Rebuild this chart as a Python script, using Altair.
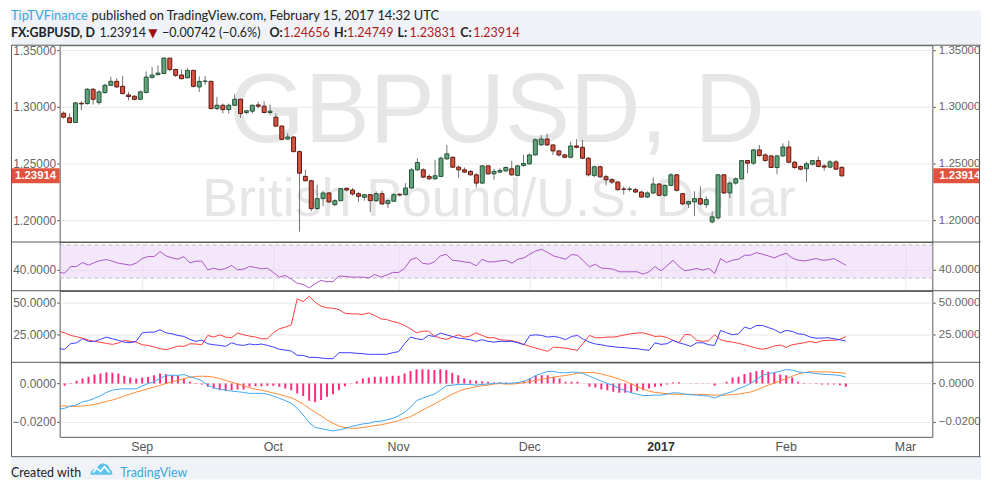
import altair as alt
import pandas as pd

# ---------------- data ----------------
opens = [1.2944, 1.2903, 1.2862, 1.3032, 1.3029, 1.3155, 1.3038, 1.3126, 1.3190, 1.3225,
         1.3181, 1.3105, 1.3094, 1.3067, 1.3126, 1.3260, 1.3284, 1.3295, 1.3430, 1.3330,
         1.3281, 1.3257, 1.3322, 1.3176, 1.3225, 1.3225, 1.2985, 1.3014, 1.2976, 1.3014,
         1.3067, 1.2950, 1.2962, 1.3017, 1.3006, 1.2950, 1.2909, 1.2830, 1.2716, 1.2734,
         1.2605, 1.2386, 1.2348, 1.2102, 1.2190, 1.2240, 1.2137, 1.2172, 1.2281, 1.2266,
         1.2234, 1.2202, 1.2225, 1.2172, 1.2234, 1.2146, 1.2167, 1.2228, 1.2225, 1.2284,
         1.2444, 1.2444, 1.2386, 1.2365, 1.2386, 1.2541, 1.2555, 1.2468, 1.2444, 1.2430,
         1.2400, 1.2327, 1.2479, 1.2409, 1.2424, 1.2435, 1.2453, 1.2395, 1.2482, 1.2497,
         1.2576, 1.2664, 1.2716, 1.2664, 1.2611, 1.2576, 1.2555, 1.2655, 1.2643, 1.2547,
         1.2395, 1.2471, 1.2383, 1.2357, 1.2336, 1.2275, 1.2272, 1.2269, 1.2248, 1.2204,
         1.2240, 1.2319, 1.2219, 1.2307, 1.2400, 1.2234, 1.2143, 1.2161, 1.2190, 1.2137,
         1.1985, 1.2020, 1.2400, 1.2240, 1.2327, 1.2365, 1.2526, 1.2503, 1.2620, 1.2576,
         1.2567, 1.2465, 1.2567, 1.2646, 1.2511, 1.2474, 1.2453, 1.2494, 1.2526, 1.2479,
         1.2468, 1.2514, 1.24656]
highs = [1.2960, 1.2941, 1.3044, 1.3050, 1.3167, 1.3167, 1.3146, 1.3205, 1.3266, 1.3254,
         1.3272, 1.3132, 1.3102, 1.3146, 1.3313, 1.3351, 1.3366, 1.3439, 1.3433, 1.3336,
         1.3330, 1.3342, 1.3327, 1.3269, 1.3272, 1.3231, 1.3088, 1.3029, 1.3029, 1.3111,
         1.3073, 1.2973, 1.3020, 1.3044, 1.3050, 1.3020, 1.2941, 1.2839, 1.2766, 1.2740,
         1.2614, 1.2444, 1.2357, 1.2313, 1.2260, 1.2248, 1.2184, 1.2284, 1.2289, 1.2284,
         1.2248, 1.2231, 1.2231, 1.2254, 1.2260, 1.2181, 1.2240, 1.2240, 1.2327, 1.2459,
         1.2547, 1.2459, 1.2406, 1.2532, 1.2561, 1.2664, 1.2561, 1.2482, 1.2465, 1.2444,
         1.2415, 1.2488, 1.2488, 1.2453, 1.2459, 1.2474, 1.2523, 1.2488, 1.2576, 1.2588,
         1.2722, 1.2751, 1.2763, 1.2669, 1.2620, 1.2588, 1.2693, 1.2716, 1.2710, 1.2555,
         1.2482, 1.2482, 1.2400, 1.2371, 1.2342, 1.2298, 1.2295, 1.2284, 1.2260, 1.2254,
         1.2377, 1.2327, 1.2313, 1.2415, 1.2406, 1.2240, 1.2172, 1.2254, 1.2298, 1.2210,
         1.2079, 1.2406, 1.2406, 1.2342, 1.2377, 1.2532, 1.2532, 1.2628, 1.2664, 1.2590,
         1.2576, 1.2576, 1.2678, 1.2702, 1.2523, 1.2482, 1.2517, 1.2532, 1.2561, 1.2494,
         1.2532, 1.2532, 1.24749]
lows = [1.2898, 1.2854, 1.2857, 1.2971, 1.3020, 1.3020, 1.3020, 1.3117, 1.3184, 1.3167,
        1.3111, 1.3058, 1.3058, 1.3061, 1.3120, 1.3249, 1.3278, 1.3289, 1.3313, 1.3263,
        1.3243, 1.3249, 1.3170, 1.3132, 1.3196, 1.2979, 1.2971, 1.2941, 1.2941, 1.3009,
        1.2903, 1.2933, 1.2941, 1.2985, 1.2944, 1.2933, 1.2824, 1.2707, 1.2707, 1.2599,
        1.1898, 1.2342, 1.2079, 1.2093, 1.2123, 1.2152, 1.2123, 1.2167, 1.2254, 1.2216,
        1.2161, 1.2172, 1.2073, 1.2161, 1.2137, 1.2108, 1.2161, 1.2210, 1.2219, 1.2278,
        1.2435, 1.2371, 1.2357, 1.2357, 1.2380, 1.2532, 1.2459, 1.2371, 1.2415, 1.2395,
        1.2289, 1.2319, 1.2400, 1.2357, 1.2415, 1.2424, 1.2392, 1.2386, 1.2474, 1.2488,
        1.2570, 1.2658, 1.2655, 1.2576, 1.2561, 1.2547, 1.2547, 1.2634, 1.2538, 1.2386,
        1.2377, 1.2371, 1.2307, 1.2319, 1.2260, 1.2225, 1.2254, 1.2240, 1.2196, 1.2196,
        1.2231, 1.2210, 1.2207, 1.2298, 1.2254, 1.2131, 1.2108, 1.2035, 1.2131, 1.2108,
        1.1971, 1.2006, 1.2231, 1.2196, 1.2313, 1.2357, 1.2415, 1.2488, 1.2561, 1.2517,
        1.2459, 1.2406, 1.2558, 1.2503, 1.2453, 1.2438, 1.2336, 1.2482, 1.2465, 1.2435,
        1.2459, 1.2444, 1.23831]
closes = [1.2909, 1.2862, 1.3035, 1.3026, 1.3155, 1.3067, 1.3132, 1.3190, 1.3225, 1.3176,
          1.3117, 1.3091, 1.3067, 1.3132, 1.3263, 1.3281, 1.3298, 1.3430, 1.3330, 1.3278,
          1.3249, 1.3322, 1.3181, 1.3225, 1.3228, 1.2985, 1.3014, 1.2976, 1.3014, 1.3067,
          1.2941, 1.2965, 1.3014, 1.3006, 1.2950, 1.2962, 1.2830, 1.2713, 1.2734, 1.2605,
          1.2415, 1.2348, 1.2102, 1.2190, 1.2240, 1.2161, 1.2172, 1.2278, 1.2266, 1.2231,
          1.2210, 1.2225, 1.2172, 1.2234, 1.2143, 1.2172, 1.2225, 1.2222, 1.2284, 1.2444,
          1.2509, 1.2380, 1.2365, 1.2392, 1.2547, 1.2585, 1.2468, 1.2444, 1.2424, 1.2400,
          1.2327, 1.2479, 1.2409, 1.2430, 1.2438, 1.2465, 1.2400, 1.2479, 1.2500, 1.2576,
          1.2710, 1.2716, 1.2664, 1.2611, 1.2576, 1.2555, 1.2655, 1.2643, 1.2547, 1.2400,
          1.2471, 1.2383, 1.2357, 1.2336, 1.2269, 1.2272, 1.2275, 1.2248, 1.2204, 1.2240,
          1.2319, 1.2219, 1.2307, 1.2400, 1.2263, 1.2143, 1.2164, 1.2190, 1.2143, 1.2181,
          1.2029, 1.2400, 1.2240, 1.2327, 1.2365, 1.2526, 1.2503, 1.2620, 1.2570, 1.2526,
          1.2465, 1.2567, 1.2646, 1.2511, 1.2465, 1.2450, 1.2497, 1.2526, 1.2474, 1.2468,
          1.2514, 1.2450, 1.23914]

rsi = [36.8, 36.0, 44.0, 44.0, 48.8, 45.6, 48.8, 51.2, 52.4, 50.4,
       48.0, 46.8, 45.6, 48.0, 53.6, 56.0, 56.0, 62.0, 56.8, 54.4,
       52.8, 56.0, 48.4, 50.4, 50.4, 40.0, 42.0, 40.0, 41.6, 45.2,
       40.0, 40.8, 44.0, 42.8, 41.2, 42.0, 36.8, 31.2, 33.2, 28.8,
       23.6, 22.4, 18.0, 23.2, 27.2, 25.6, 25.6, 32.4, 32.0, 31.2,
       31.2, 31.2, 30.0, 34.4, 31.2, 33.6, 36.8, 36.8, 41.6, 52.0,
       54.8, 48.0, 46.8, 49.6, 56.8, 58.8, 51.6, 50.8, 49.6, 48.8,
       44.8, 52.8, 49.6, 49.6, 50.8, 51.6, 48.0, 52.8, 54.4, 58.8,
       62.8, 64.8, 60.8, 56.8, 54.8, 52.8, 58.4, 57.6, 50.8, 43.6,
       46.8, 42.0, 41.6, 40.8, 37.6, 37.6, 37.6, 37.6, 34.8, 37.6,
       44.0, 38.8, 44.8, 51.6, 44.0, 38.8, 40.0, 41.6, 39.6, 41.6,
       35.6, 53.6, 48.8, 51.6, 52.8, 57.6, 57.6, 60.8, 58.8, 56.8,
       54.4, 57.6, 60.0, 54.4, 51.6, 50.8, 52.0, 53.6, 51.6, 52.0,
       53.6, 49.6, 45.6]
rsi_levels = [70, 30]

plus_di = [13.7, 13.2, 17.6, 18.4, 21.6, 19.5, 19.5, 21.1, 22.9, 21.6,
           20.3, 18.9, 18.4, 19.5, 26.3, 26.8, 26.8, 28.7, 26.3, 25.5,
           24.2, 23.4, 21.1, 19.5, 20.5, 17.6, 16.8, 16.3, 15.5, 18.4,
           16.8, 16.3, 17.4, 16.8, 17.4, 16.3, 15.0, 13.2, 12.6, 11.8,
           8.4, 8.4, 6.8, 6.8, 6.3, 5.8, 5.8, 10.5, 10.5, 10.5,
           10.0, 9.7, 9.2, 9.2, 9.2, 9.2, 10.5, 11.3, 17.6, 22.9,
           21.6, 20.8, 24.2, 23.4, 26.1, 24.7, 23.4, 22.1, 21.6, 20.8,
           19.5, 20.8, 19.5, 18.9, 19.5, 19.5, 19.5, 18.4, 16.8, 24.2,
           24.7, 24.2, 22.9, 23.4, 22.6, 20.8, 23.4, 24.2, 21.1, 18.9,
           17.4, 16.8, 15.8, 15.3, 14.7, 14.5, 13.9, 13.7, 12.9, 12.4,
           18.4, 17.1, 17.6, 20.3, 18.4, 17.1, 15.5, 18.4, 18.4, 16.8,
           16.3, 28.2, 26.3, 24.7, 25.5, 30.8, 29.5, 32.1, 32.1, 30.5,
           28.9, 26.3, 28.2, 27.4, 25.5, 25.0, 22.9, 22.1, 22.1, 22.4,
           21.6, 20.8, 19.7]
minus_di = [27.6, 26.3, 24.2, 23.2, 22.1, 20.5, 19.5, 18.7, 17.9, 17.1,
            18.2, 20.3, 19.5, 18.9, 16.8, 16.3, 15.0, 13.7, 12.9, 14.2,
            15.8, 15.5, 17.6, 17.4, 16.8, 24.2, 22.9, 24.7, 22.9, 22.4,
            26.1, 24.7, 23.7, 22.9, 21.6, 21.6, 26.3, 29.5, 30.8, 32.6,
            53.2, 51.1, 55.3, 50.5, 47.4, 46.1, 45.8, 44.7, 41.8, 41.3,
            41.3, 40.8, 42.1, 40.0, 37.4, 36.8, 35.3, 34.2, 32.1, 29.5,
            26.3, 27.6, 27.6, 23.7, 22.1, 21.1, 22.9, 24.7, 22.9, 23.7,
            26.3, 24.2, 22.4, 22.4, 20.8, 20.5, 20.0, 18.9, 17.1, 15.5,
            14.2, 12.9, 11.6, 15.0, 14.5, 14.2, 13.2, 12.4, 18.4, 24.2,
            22.4, 22.4, 22.9, 22.9, 23.7, 24.7, 25.5, 26.1, 26.3, 25.0,
            23.4, 23.7, 22.6, 20.3, 18.4, 25.0, 24.7, 20.3, 19.5, 20.0,
            24.7, 20.8, 19.5, 18.9, 17.9, 16.8, 15.5, 14.2, 13.2, 14.2,
            15.8, 16.6, 14.7, 16.8, 17.6, 18.4, 19.5, 18.4, 20.0, 20.3,
            20.3, 21.1, 23.4]

macd = [-0.0134, -0.0130, -0.0118, -0.0113, -0.0096, -0.0090, -0.0078, -0.0064, -0.0047, -0.0035,
        -0.0030, -0.0028, -0.0028, -0.0028, -0.0014, 0.0000, 0.0009, 0.0026, 0.0043, 0.0043,
        0.0042, 0.0047, 0.0035, 0.0026, 0.0014, -0.0009, -0.0023, -0.0031, -0.0035, -0.0040,
        -0.0043, -0.0047, -0.0052, -0.0052, -0.0052, -0.0056, -0.0066, -0.0078, -0.0090, -0.0104,
        -0.0130, -0.0165, -0.0205, -0.0230, -0.0237, -0.0243, -0.0249, -0.0243, -0.0237, -0.0226,
        -0.0219, -0.0212, -0.0209, -0.0200, -0.0198, -0.0191, -0.0183, -0.0169, -0.0151, -0.0125,
        -0.0090, -0.0078, -0.0066, -0.0056, -0.0035, -0.0012, -0.0009, -0.0005, -0.0005, -0.0005,
        -0.0009, -0.0005, -0.0003, 0.0000, 0.0003, 0.0000, 0.0002, 0.0005, 0.0012, 0.0024,
        0.0042, 0.0052, 0.0063, 0.0063, 0.0057, 0.0056, 0.0059, 0.0059, 0.0052, 0.0038,
        0.0026, 0.0012, 0.0000, -0.0010, -0.0026, -0.0038, -0.0049, -0.0056, -0.0063, -0.0063,
        -0.0061, -0.0061, -0.0056, -0.0049, -0.0050, -0.0056, -0.0059, -0.0061, -0.0064, -0.0066,
        -0.0077, -0.0063, -0.0052, -0.0042, -0.0028, -0.0016, 0.0000, 0.0021, 0.0043, 0.0052,
        0.0057, 0.0064, 0.0073, 0.0070, 0.0061, 0.0057, 0.0057, 0.0052, 0.0049, 0.0047,
        0.0045, 0.0042, 0.0033]
signal = [-0.0117, -0.0118, -0.0120, -0.0120, -0.0118, -0.0115, -0.0110, -0.0103, -0.0094, -0.0087,
          -0.0077, -0.0066, -0.0056, -0.0045, -0.0037, -0.0028, -0.0019, -0.0010, 0.0000, 0.0009,
          0.0017, 0.0024, 0.0033, 0.0037, 0.0038, 0.0037, 0.0033, 0.0026, 0.0016, 0.0007,
          -0.0002, -0.0012, -0.0023, -0.0030, -0.0035, -0.0042, -0.0050, -0.0057, -0.0066, -0.0075,
          -0.0090, -0.0108, -0.0130, -0.0151, -0.0170, -0.0191, -0.0209, -0.0223, -0.0231, -0.0235,
          -0.0235, -0.0231, -0.0226, -0.0221, -0.0217, -0.0210, -0.0203, -0.0195, -0.0183, -0.0174,
          -0.0157, -0.0141, -0.0123, -0.0108, -0.0090, -0.0073, -0.0056, -0.0042, -0.0031, -0.0024,
          -0.0017, -0.0012, -0.0009, -0.0003, 0.0000, -0.0003, -0.0003, 0.0000, 0.0005, 0.0010,
          0.0016, 0.0021, 0.0028, 0.0033, 0.0038, 0.0042, 0.0047, 0.0054, 0.0057, 0.0057,
          0.0056, 0.0050, 0.0042, 0.0033, 0.0023, 0.0012, -0.0002, -0.0016, -0.0030, -0.0040,
          -0.0047, -0.0050, -0.0054, -0.0056, -0.0056, -0.0057, -0.0057, -0.0057, -0.0057, -0.0059,
          -0.0061, -0.0061, -0.0061, -0.0059, -0.0056, -0.0050, -0.0045, -0.0035, -0.0021, -0.0009,
          0.0002, 0.0014, 0.0026, 0.0038, 0.0050, 0.0057, 0.0061, 0.0061, 0.0061, 0.0061,
          0.0059, 0.0057, 0.0052]
hist = [0.0000, -0.0012, 0.0002, 0.0014, 0.0026, 0.0035, 0.0047, 0.0052, 0.0059, 0.0056,
        0.0052, 0.0040, 0.0031, 0.0026, 0.0031, 0.0035, 0.0043, 0.0052, 0.0049, 0.0043,
        0.0040, 0.0026, 0.0009, 0.0002, -0.0005, -0.0017, -0.0026, -0.0035, -0.0038, -0.0035,
        -0.0031, -0.0031, -0.0017, -0.0014, -0.0014, -0.0012, -0.0012, -0.0017, -0.0026, -0.0035,
        -0.0052, -0.0066, -0.0090, -0.0099, -0.0087, -0.0070, -0.0057, -0.0035, -0.0014, -0.0002,
        0.0012, 0.0026, 0.0031, 0.0035, 0.0035, 0.0035, 0.0040, 0.0040, 0.0052, 0.0066,
        0.0075, 0.0075, 0.0073, 0.0070, 0.0075, 0.0070, 0.0056, 0.0043, 0.0026, 0.0017,
        0.0014, 0.0012, 0.0009, 0.0005, 0.0005, 0.0005, 0.0003, 0.0007, 0.0012, 0.0026,
        0.0040, 0.0043, 0.0043, 0.0035, 0.0026, 0.0009, 0.0009, 0.0009, 0.0000, -0.0017,
        -0.0021, -0.0031, -0.0035, -0.0043, -0.0049, -0.0049, -0.0049, -0.0038, -0.0035, -0.0026,
        -0.0017, -0.0014, -0.0005, 0.0005, 0.0007, 0.0000, -0.0002, -0.0002, -0.0002, -0.0002,
        -0.0012, 0.0000, 0.0009, 0.0031, 0.0035, 0.0049, 0.0057, 0.0064, 0.0070, 0.0061,
        0.0057, 0.0047, 0.0043, 0.0031, 0.0009, 0.0002, -0.0002, -0.0003, -0.0005, -0.0005,
        -0.0005, -0.0009, -0.0017]

month_ticks = [14, 36, 57, 79, 101, 122, 142]
month_labels = ["Sep", "Oct", "Nov", "Dec", "2017", "Feb", "Mar"]
price_ticks = [1.20, 1.25, 1.30, 1.35]
rsi_ticks = [40]
dmi_ticks = [25, 50]
macd_ticks = [0.0, -0.02]
last_price = 1.23914

n = len(opens)
for arr in (highs, lows, closes, rsi, plus_di, minus_di, macd, signal, hist):
    assert len(arr) == n

idx = list(range(n))
df = pd.DataFrame({"idx": idx, "open": opens, "high": highs, "low": lows, "close": closes})
df["dir"] = ["up" if c >= o else "down" for o, c in zip(opens, closes)]
df["top"] = [max(o, c) for o, c in zip(opens, closes)]
df["bot"] = [min(o, c) for o, c in zip(opens, closes)]
ind = pd.DataFrame({"idx": idx, "rsi": rsi, "pdi": plus_di, "mdi": minus_di,
                    "macd": macd, "signal": signal, "hist": hist})
ind["zero"] = 0.0
months = pd.DataFrame({"t": month_ticks, "label": month_labels})
one = pd.DataFrame({"k": [0]})

# ---------------- layout / style ----------------
W = 878
H1, H2, H3, H4 = 198, 49, 72, 75
LM, RM = 49, 49
BG = "#eff3f8"
GRID = "#e8e8e8"
AXC = "#5a5a5a"
LBL = "#666666"
AFONT = "Liberation Sans"
HFONT = "Lato"

xscale = alt.Scale(domain=[0.1667, 146.5], nice=False, zero=False)
xgrid = alt.Axis(values=month_ticks, labels=False, ticks=False, domain=False, grid=True,
                 gridColor=GRID, title=None)


def yax(orient, values, fmt, grid):
    left = orient == "left"
    return alt.Axis(orient=orient, values=values, format=fmt, grid=grid, gridColor=GRID,
                    ticks=True, tickColor=AXC, tickSize=3, domain=False, labelColor=LBL,
                    labelFontSize=12 if left else 11.6, labelFont=AFONT, labelPadding=1 if left else 3,
                    title=None, labelOverlap=False)


def X(axis=None):
    return alt.X("idx:Q", scale=xscale, axis=axis, title=None)


def txt(s, x, y, color, size=13, weight="normal", font=HFONT, align="left", baseline="alphabetic"):
    return alt.Chart(one).mark_text(text=s, align=align, baseline=baseline, font=font, fontSize=size,
                                    fontWeight=weight, color=color).encode(x=alt.value(x), y=alt.value(y))


def hline(y, color=AXC):
    return alt.Chart(one).mark_rule(color=color, strokeWidth=1).encode(
        x=alt.value(-LM + 0.5), x2=alt.value(W + RM - 0.5), y=alt.value(y))


# ---------------- panel 1: price ----------------
ys1 = alt.Scale(domain=[1.1807, 1.3544], nice=False, zero=False)
UP, DOWN, UPB, DOWNB = "#62a27a", "#d6513e", "#225437", "#5b1a13"

header_band = alt.Chart(one).mark_rect(color=BG).encode(
    x=alt.value(-LM), x2=alt.value(W + RM), y=alt.value(-35), y2=alt.value(0))
wm1 = txt("GBPUSD, D", W / 2 + 1, 97, "#e6e6e6", size=98, font="Liberation Sans", align="center")
wm2 = txt("British Pound/U.S. Dollar", W / 2 + 3, 172, "#e6e6e6", size=54, font="Liberation Sans", align="center")

wick = alt.Chart(df).mark_rule(color="#737375", strokeWidth=1, clip=True).encode(
    x=X(xgrid), y=alt.Y("low:Q", scale=ys1, axis=yax("left", price_ticks, ".5f", True)), y2="high:Q")
body = alt.Chart(df).mark_bar(size=4, strokeWidth=1, clip=True).encode(
    x=X(), y=alt.Y("bot:Q", scale=ys1, axis=yax("right", price_ticks, ".5f", False)), y2="top:Q",
    fill=alt.Fill("dir:N", scale=alt.Scale(domain=["up", "down"], range=[UP, DOWN]), legend=None),
    stroke=alt.Stroke("dir:N", scale=alt.Scale(domain=["up", "down"], range=[UPB, DOWNB]), legend=None))

# price tags: thick rules with square caps (bounds stay inside the chart box)
BOXW = 15
lp = pd.DataFrame({"p": [last_price]})
box_r = alt.Chart(lp).mark_rule(color="#e0533d", strokeWidth=BOXW, strokeCap="square").encode(
    x=alt.value(W + 1 + BOXW / 2), x2=alt.value(W + RM - BOXW / 2 - 1), y=alt.Y("p:Q", scale=ys1, axis=None))
box_l = alt.Chart(lp).mark_rule(color="#e0533d", strokeWidth=BOXW, strokeCap="square").encode(
    x=alt.value(-LM + BOXW / 2 + 1), x2=alt.value(-BOXW / 2), y=alt.Y("p:Q", scale=ys1, axis=None))
box_rt = alt.Chart(lp).mark_text(text=f"{last_price:.5f}", align="left", baseline="middle", color="white",
                                 fontWeight="bold", fontSize=11.5, font=AFONT).encode(
    x=alt.value(W + 7), y=alt.Y("p:Q", scale=ys1, axis=None))
box_lt = alt.Chart(lp).mark_text(text=f"{last_price:.5f}", align="left", baseline="middle", color="white",
                                 fontWeight="bold", fontSize=11.5, font=AFONT).encode(
    x=alt.value(-45), y=alt.Y("p:Q", scale=ys1, axis=None))

RED = "#b0201b"
DARK = "#222222"
L1, L2 = -25, -8
S2 = 12.6
hdr = [
    txt("TipTVFinance", -49, L1, "#38a8dc"),
    txt("published on TradingView.com, February 15, 2017 14:32 UTC", 89 - 57, L1, DARK),
    txt("FX:GBPUSD, D", -49, L2, DARK, weight="bold", size=12.5),
    txt("1.23914", 97 - 57, L2, DARK, size=S2),
    txt("\u25bc", 146 - 57, L2, "#a01010", size=12, font="DejaVu Sans"),
    txt("\u22120.00742 (\u22120.6%)", 160 - 57, L2, DARK, size=S2),
    txt("O:", 268 - 57, L2, DARK, weight="bold", size=S2),
    txt("1.24656", 282 - 57, L2, RED, size=S2),
    txt("H:", 333 - 57, L2, DARK, weight="bold", size=S2),
    txt("1.24749", 346 - 57, L2, RED, size=S2),
    txt("L:", 397 - 57, L2, DARK, weight="bold", size=S2),
    txt("1.23831", 409 - 57, L2, RED, size=S2),
    txt("C:", 460 - 57, L2, DARK, weight="bold", size=S2),
    txt("1.23914", 473 - 57, L2, RED, size=S2),
]

p1 = alt.layer(header_band, wm1, wm2, wick, body, box_r, box_l, box_rt, box_lt, hline(0), *hdr).properties(
    width=W, height=H1).resolve_scale(y="shared").resolve_axis(y="independent")

# ---------------- panel 2: RSI ----------------
ys2 = alt.Scale(domain=[14.7, 73.6], nice=False, zero=False)
band = alt.Chart(pd.DataFrame({"hi": [rsi_levels[0]], "lo": [rsi_levels[1]]})).mark_rect(
    color="#e9cff7", opacity=0.5).encode(
    x=alt.value(0), x2=alt.value(W), y=alt.Y("hi:Q", scale=ys2, axis=yax("left", rsi_ticks, ".4f", True)),
    y2="lo:Q")
dash = alt.Chart(pd.DataFrame({"lvl": rsi_levels})).mark_rule(color="#bdbdbd", strokeDash=[4, 3]).encode(
    x=alt.value(0), x2=alt.value(W), y=alt.Y("lvl:Q", scale=ys2, axis=None))
rsi_line = alt.Chart(ind).mark_line(color="#a957c6", strokeWidth=1, clip=True).encode(
    x=X(xgrid), y=alt.Y("rsi:Q", scale=ys2, axis=yax("right", rsi_ticks, ".4f", False)))
p2 = alt.layer(band, dash, rsi_line, hline(0)).properties(width=W, height=H2).resolve_scale(
    y="shared").resolve_axis(y="independent")

# ---------------- panel 3: DMI ----------------
ys3 = alt.Scale(domain=[2.9, 59.7], nice=False, zero=False)
mdi_line = alt.Chart(ind).mark_line(color="#ff3b3b", strokeWidth=1, clip=True).encode(
    x=X(xgrid), y=alt.Y("mdi:Q", scale=ys3, axis=yax("left", dmi_ticks, ".4f", True)))
pdi_line = alt.Chart(ind).mark_line(color="#3b3bff", strokeWidth=1, clip=True).encode(
    x=X(), y=alt.Y("pdi:Q", scale=ys3, axis=yax("right", dmi_ticks, ".4f", False)))
p3 = alt.layer(mdi_line, pdi_line, hline(0)).properties(width=W, height=H3).resolve_scale(
    y="shared").resolve_axis(y="independent")

# ---------------- panel 4: MACD ----------------
ys4 = alt.Scale(domain=[-0.02797, 0.01111], nice=False, zero=False)
hbars = alt.Chart(ind).mark_rule(color="#ff2a80", strokeWidth=2, clip=True).encode(
    x=X(xgrid), y=alt.Y("hist:Q", scale=ys4, axis=yax("left", macd_ticks, ".4f", True)), y2="zero:Q")
macd_line = alt.Chart(ind).mark_line(color="#3fa7f2", strokeWidth=1, clip=True).encode(
    x=X(), y=alt.Y("macd:Q", scale=ys4, axis=yax("right", macd_ticks, ".4f", False)))
sig_line = alt.Chart(ind).mark_line(color="#ff8a33", strokeWidth=1, clip=True).encode(
    x=X(), y=alt.Y("signal:Q", scale=ys4, axis=None))
month_norm = alt.Chart(months).transform_filter("datum.label != '2017'").mark_text(
    baseline="top", align="center", font=AFONT, fontSize=12.5, color="#555555").encode(
    x=alt.X("t:Q", scale=xscale, axis=None), y=alt.value(H4 + 4), text="label:N")
month_bold = alt.Chart(months).transform_filter("datum.label == '2017'").mark_text(
    baseline="top", align="center", font=AFONT, fontSize=12.5, color="#333333", fontWeight="bold").encode(
    x=alt.X("t:Q", scale=xscale, axis=None), y=alt.value(H4 + 4), text="label:N")

BOX_TOP = -(H1 + H2 + H3)
BOX_BOT = H4 + 20
FOOT_END = BOX_BOT + 23          # keeps the whole chart a few px shorter than the window
footer_band = alt.Chart(one).mark_rect(color=BG).encode(
    x=alt.value(-LM), x2=alt.value(W + RM), y=alt.value(BOX_BOT + 0.5), y2=alt.value(FOOT_END))
side_l = alt.Chart(one).mark_rule(color=AXC).encode(
    x=alt.value(-LM + 0.5), y=alt.value(BOX_TOP), y2=alt.value(BOX_BOT))
side_r = alt.Chart(one).mark_rule(color=AXC).encode(
    x=alt.value(W + RM - 1.5), y=alt.value(BOX_TOP), y2=alt.value(BOX_BOT))
cloud = ("M-1,0.55 C-1,0.2 -0.75,0 -0.45,0.05 C-0.35,-0.35 0,-0.55 0.3,-0.45 "
         "C0.6,-0.38 0.75,-0.15 0.75,0.05 C0.95,0.1 1,0.35 1,0.55 Z")
zigzag = "M-0.85,0.4 L-0.45,-0.05 L-0.1,0.3 L0.3,-0.2 L0.8,0.4"
logo = alt.Chart(one).mark_point(shape=cloud, filled=True, size=484, color="#5ec2ea", opacity=1).encode(
    x=alt.value(99 - 57), y=alt.value(BOX_BOT + 12))
logo_z = alt.Chart(one).mark_point(shape=zigzag, filled=False, size=400, stroke="white", strokeWidth=1.6,
                                   opacity=1).encode(x=alt.value(99 - 57), y=alt.value(BOX_BOT + 12))
foot = [
    txt("Created with", -49, FOOT_END - 3, DARK, size=12.5),
    txt("TradingView", 118 - 57, FOOT_END - 3, "#38a8dc", size=12.5),
]
p4 = alt.layer(hbars, sig_line, macd_line, month_norm, month_bold, hline(0), footer_band, hline(BOX_BOT),
               side_l, side_r, logo, logo_z, *foot).properties(width=W, height=H4).resolve_scale(
    y="shared").resolve_axis(y="independent")

chart = alt.vconcat(p1, p2, p3, p4, spacing=0, bounds="flush").properties(
    padding=0, background="white").configure_view(stroke=AXC, strokeWidth=1)

chart.save("out.html", embed_options={"renderer": "svg", "actions": False})
